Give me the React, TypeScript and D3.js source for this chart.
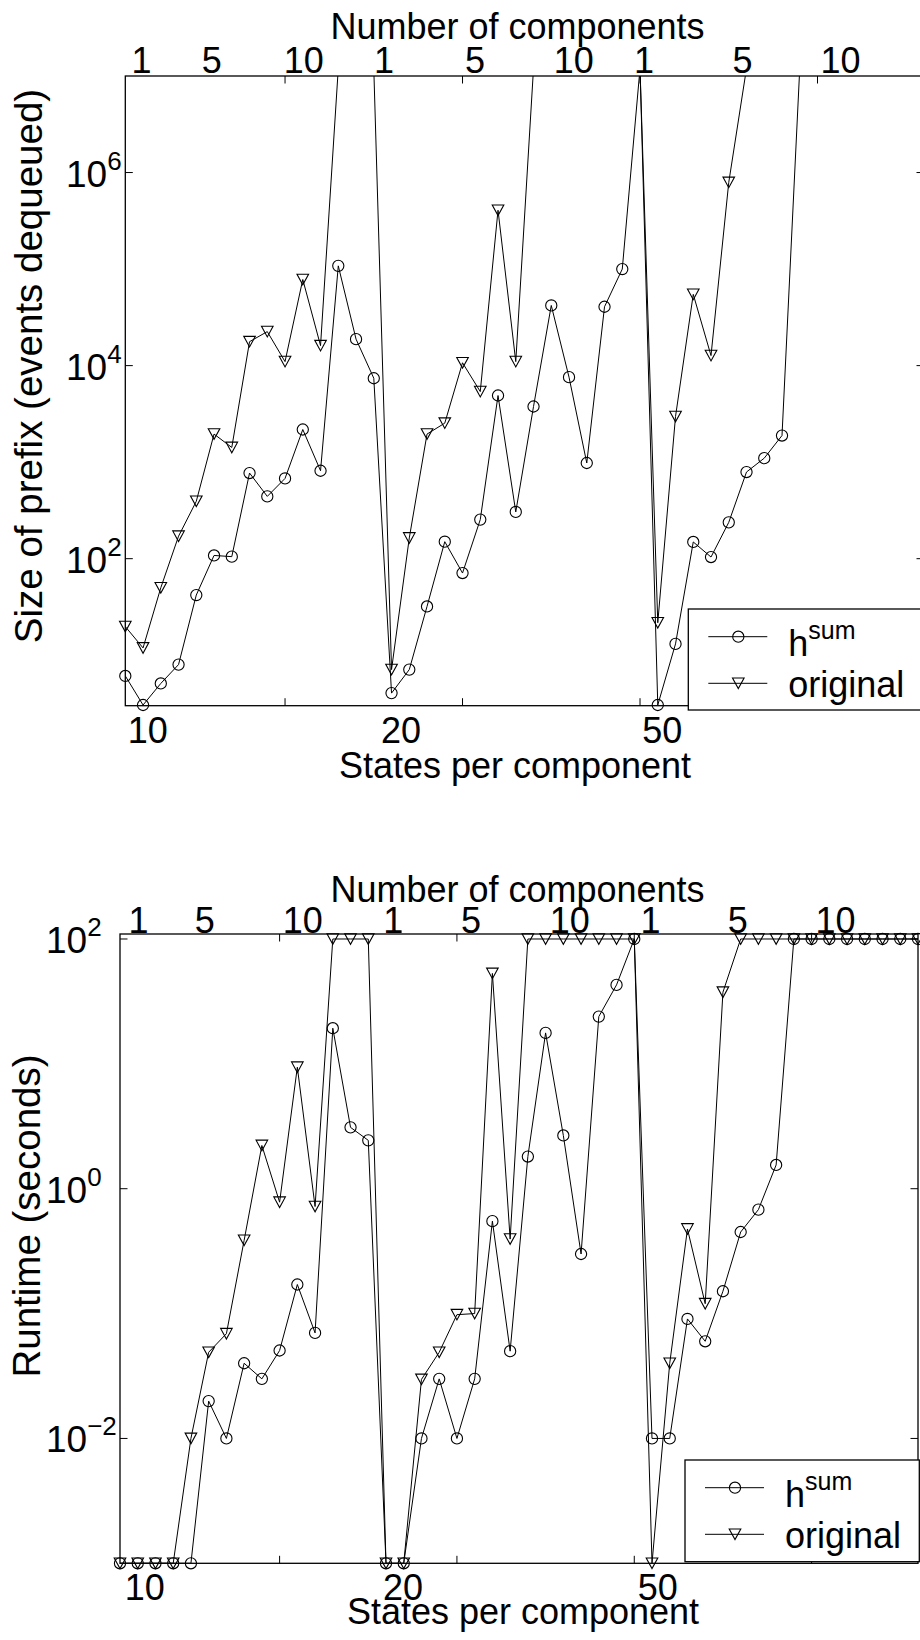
import React from "react";
import { scaleLinear, scaleLog, line } from "d3";

// runs that never finished are plotted just above the top of the prefix chart
const CAP = 1.2e7;

// one point per run: 15 runs with 10 states, 15 with 20 states, 16 with 50 states
const prefixHsum = [
  6.1, 3.05, 5.1, 8.0, 42, 108, 105, 771, 442, 678, 2178, 815, 1.08e5, 1.88e4, 7400,
  4.05, 7.1, 32, 150, 71, 254, 4900, 305, 3770, 4.2e4, 7590, 980, 4.07e4, 1.0e5, CAP,
  3.05, 13.1, 149, 104, 238, 790, 1100, 1887, CAP, CAP, CAP, CAP, CAP, CAP, CAP, CAP,
];
const prefixOriginal = [
  19.8, 11.9, 50, 171, 393, 1953, 1420, 1.77e4, 2.25e4, 1.1e4, 7.8e4, 1.61e4, CAP, CAP, CAP,
  7.1, 164, 1953, 2535, 1.07e4, 5380, 4.07e5, 1.1e4, CAP, CAP, CAP, CAP, CAP, CAP, CAP,
  21.7, 2970, 5.47e4, 1.27e4, 7.9e5, CAP, CAP, CAP, CAP, CAP, CAP, CAP, CAP, CAP, CAP, CAP,
];
const runtimeHsum = [
  1e-3, 1e-3, 1e-3, 1e-3, 1e-3, 0.0199, 0.01, 0.04, 0.03, 0.0506, 0.171, 0.07, 19.3, 3.1, 2.44,
  1e-3, 1e-3, 0.01, 0.03, 0.01, 0.03, 0.55, 0.05, 1.81, 17.7, 2.67, 0.3, 23.9, 42.9, 100,
  0.01, 0.01, 0.0906, 0.06, 0.151, 0.45, 0.68, 1.55, 100, 100, 100, 100, 100, 100, 100, 100,
];
const runtimeOriginal = [
  1e-3, 1e-3, 1e-3, 1e-3, 0.01, 0.049, 0.069, 0.386, 2.22, 0.78, 9.4, 0.72, 100, 100, 100,
  1e-3, 1e-3, 0.0297, 0.049, 0.098, 0.1, 53, 0.395, 100, 100, 100, 100, 100, 100, 100,
  1e-3, 0.04, 0.476, 0.12, 37.5, 100, 100, 100, 100, 100, 100, 100, 100, 100, 100, 100,
];

const statesLabels = ["10", "20", "50"];
const componentLabels = ["1", "5", "10", "1", "5", "10", "1", "5", "10"];
// where the hand placed labels sit, in run index units
const prefixStatesPos = [2.27, 16.53, 31.26];
const prefixComponentPos = [1.91, 5.87, 11.06, 15.58, 20.7, 26.27, 30.23, 35.77, 41.29];
const runtimeStatesPos = [2.4, 16.96, 31.32];
const runtimeComponentPos = [2.04, 5.78, 11.31, 16.41, 20.8, 26.36, 30.92, 35.83, 41.35];

const xTicks = [10, 20, 30, 40];
const prefixYTicks = [1e2, 1e4, 1e6];
const runtimeYTicks = [1e-2, 1e0, 1e2];

const FONT = "'Liberation Sans', Arial, Helvetica, sans-serif";

const triangle = "M-5.8,-5.3L5.8,-5.3L0,5.3Z";

function Marker({ kind, x, y }) {
  if (kind === "circle") {
    return <circle cx={x} cy={y} r={5.6} fill="none" stroke="#000" strokeWidth={1.1} />;
  }
  return <path d={triangle} transform={`translate(${x},${y})`} fill="none" stroke="#000" strokeWidth={1.1} />;
}

function expLabel(t) {
  return String(Math.round(Math.log10(t))).replace("-", "\u2212");
}

function Chart({ cfg }) {
  const { left, right, top, bottom, id } = cfg;
  const x = scaleLinear().domain([1, cfg.hsum.length]).range([left, right]);
  const y = scaleLog().domain(cfg.yDomain).range([bottom, top]);
  const path = line<number>()
    .x((_, i) => x(i + 1))
    .y((d) => y(d));
  const inside = (d) => d <= cfg.yDomain[1] * 1.001 && d >= cfg.yDomain[0] * 0.999;
  const series = [
    { values: cfg.hsum, kind: "circle" },
    { values: cfg.original, kind: "triangle" },
  ];
  const lg = cfg.legend;
  const tick = 7.5;

  return (
    <g>
      <defs>
        <clipPath id={id}>
          <rect x={left} y={top} width={right - left} height={bottom - top} />
        </clipPath>
      </defs>
      {series.map((s) => (
        <g key={s.kind}>
          <path d={path(s.values) || ""} fill="none" stroke="#000" strokeWidth={1} clipPath={`url(#${id})`} />
          {s.values.map((d, i) =>
            inside(d) ? <Marker key={i} kind={s.kind} x={x(i + 1)} y={y(d)} /> : null
          )}
        </g>
      ))}

      <rect x={left} y={top} width={right - left} height={bottom - top} fill="none" stroke="#000" strokeWidth={1.3} />
      {xTicks.map((t) => (
        <g key={t} stroke="#000" strokeWidth={1}>
          <line x1={x(t)} x2={x(t)} y1={bottom} y2={bottom - tick} />
          <line x1={x(t)} x2={x(t)} y1={top} y2={top + tick} />
        </g>
      ))}
      {cfg.yTicks.map((t) => (
        <g key={t}>
          <line x1={left} x2={left + tick} y1={y(t)} y2={y(t)} stroke="#000" strokeWidth={1} />
          <line x1={right} x2={right - tick} y1={y(t)} y2={y(t)} stroke="#000" strokeWidth={1} />
          <text x={cfg.yTickX} y={y(t) + 14} fontSize={37} fontFamily={FONT}>
            10
            <tspan fontSize={26} dy={-17}>
              {expLabel(t)}
            </tspan>
          </text>
        </g>
      ))}

      {statesLabels.map((s, i) => (
        <text key={i} x={x(cfg.statesPos[i])} y={cfg.statesLabelY} fontSize={36} fontFamily={FONT} textAnchor="middle">
          {s}
        </text>
      ))}
      {componentLabels.map((s, i) => (
        <text key={i} x={x(cfg.componentPos[i])} y={cfg.componentLabelY} fontSize={36} fontFamily={FONT} textAnchor="middle">
          {s}
        </text>
      ))}

      <text x={517.5} y={cfg.titleY} fontSize={36} fontFamily={FONT} textAnchor="middle">
        Number of components
      </text>
      <text x={cfg.xTitleX} y={cfg.xTitleY} fontSize={36} fontFamily={FONT} textAnchor="middle">
        States per component
      </text>
      <text
        transform={`translate(${cfg.yLabelX},${cfg.yLabelY}) rotate(-90)`}
        fontSize={38.5}
        fontFamily={FONT}
        textAnchor="middle"
      >
        {cfg.yLabel}
      </text>

      <g>
        <rect x={lg.x} y={lg.y} width={lg.w} height={lg.h} fill="#fff" stroke="#000" strokeWidth={1.3} />
        {series.map((s, i) => {
          const ry = lg.y + 27.7 + i * 46.6;
          return (
            <g key={s.kind}>
              <line x1={lg.x + 20} x2={lg.x + 79} y1={ry} y2={ry} stroke="#000" strokeWidth={1} />
              <Marker kind={s.kind} x={lg.x + 50} y={ry} />
              {i === 0 ? (
                <text x={lg.x + 100} y={ry + 19.5} fontSize={36} fontFamily={FONT}>
                  h
                  <tspan fontSize={25} dy={-17.7}>
                    sum
                  </tspan>
                </text>
              ) : (
                <text x={lg.x + 100} y={ry + 13.5} fontSize={36} fontFamily={FONT}>
                  original
                </text>
              )}
            </g>
          );
        })}
      </g>
    </g>
  );
}

export default function App() {
  const prefixCfg = {
    id: "clip-prefix",
    left: 125.3,
    right: 924,
    top: 76,
    bottom: 705.7,
    yDomain: [3, 1e7],
    yTicks: prefixYTicks,
    hsum: prefixHsum,
    original: prefixOriginal,
    statesPos: prefixStatesPos,
    componentPos: prefixComponentPos,
    titleY: 39.3,
    componentLabelY: 73.3,
    statesLabelY: 742.7,
    xTitleX: 515,
    xTitleY: 778.3,
    yLabel: "Size of prefix (events dequeued)",
    yLabelX: 42,
    yLabelY: 366,
    yTickX: 66,
    legend: { x: 688.3, y: 609, w: 237, h: 101 },
  };
  const runtimeCfg = {
    id: "clip-runtime",
    left: 120,
    right: 918,
    top: 934,
    bottom: 1563.3,
    yDomain: [1e-3, Math.pow(10, 2.04)],
    yTicks: runtimeYTicks,
    hsum: runtimeHsum,
    original: runtimeOriginal,
    statesPos: runtimeStatesPos,
    componentPos: runtimeComponentPos,
    titleY: 901.7,
    componentLabelY: 933,
    statesLabelY: 1600,
    xTitleX: 523,
    xTitleY: 1624,
    yLabel: "Runtime (seconds)",
    yLabelX: 40,
    yLabelY: 1216,
    yTickX: 46,
    legend: { x: 685, y: 1460, w: 234.3, h: 101.7 },
  };

  return (
    <svg
      width={920}
      height={1640}
      style={{ position: "absolute", left: 0, top: 0, background: "#fff" }}
    >
      <rect width={920} height={1640} fill="#fff" />
      <Chart cfg={prefixCfg} />
      <Chart cfg={runtimeCfg} />
    </svg>
  );
}
